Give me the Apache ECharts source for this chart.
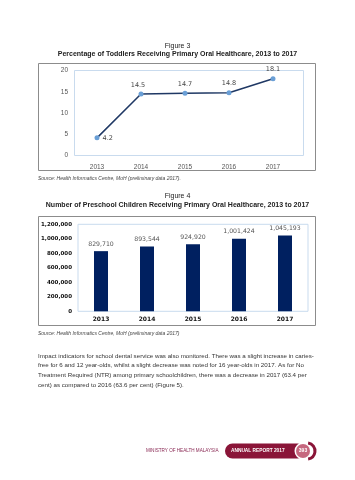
<!DOCTYPE html>
<html><head><meta charset="utf-8">
<script src="https://cdn.jsdelivr.net/npm/echarts@6/dist/echarts.min.js"></script>
<style>html,body{margin:0;padding:0;background:#fff}#c{width:355px;height:480px}</style>
</head><body><div id="c"></div>
<script>
var years = ['2013','2014','2015','2016','2017'];
var toddlerPct = [4.2, 14.5, 14.7, 14.8, 18.1];
var pctTicks = [0, 5, 10, 15, 20];
var preschoolCount = [829710, 893544, 924920, 1001424, 1045193];
var countTicks = [0, 200000, 400000, 600000, 800000, 1000000, 1200000];
var paragraph = [
  'Impact indicators for school dental service was also monitored. There was a slight increase in caries-',
  'free for 6 and 12 year-olds, whilst a slight decrease was noted for 16 year-olds in 2017. As for No',
  'Treatment Required (NTR) among primary schoolchildren, there was a decrease in 2017 (63.4 per',
  'cent) as compared to 2016 (63.6 per cent) (Figure 5).'
];

function fmt(v){ return v.toString().replace(/\B(?=(\d{3})+(?!\d))/g, ','); }

var chart = echarts.init(document.getElementById('c'), null, {renderer:'canvas'});
var SANS = '"Liberation Sans", Arial, sans-serif';
var VER = '"DejaVu Sans", Verdana, sans-serif';

var lineLabelPos = ['right','top','top','top','top'];
var lineLabelOffset = [[0,0],[-3,0],[0,0],[0,0],[0,0]];
var graphics = [
  {type:'text', left:'center', top:43, style:{text:'Figure 3', font:'7px '+SANS, fill:'#222'}},
  {type:'text', left:'center', top:51, style:{text:'Percentage of Toddlers Receiving Primary Oral Healthcare, 2013 to 2017', font:'bold 7px '+SANS, fill:'#222'}},
  {type:'rect', shape:{x:38.5, y:63.5, width:277, height:107}, style:{fill:'none', stroke:'#8c8c8c', lineWidth:1}},
  {type:'rect', shape:{x:74.5, y:70.5, width:229, height:85}, style:{fill:'none', stroke:'#c9dbee', lineWidth:1}, z:-1},
  {type:'text', left:38, top:176, style:{text:'Source: Health Informatics Centre, MoH (preliminary data 2017).', font:'italic 5px '+SANS, fill:'#444'}},
  {type:'text', left:'center', top:193, style:{text:'Figure 4', font:'7px '+SANS, fill:'#222'}},
  {type:'text', left:'center', top:202, style:{text:'Number of Preschool Children Receiving Primary Oral Healthcare, 2013 to 2017', font:'bold 7px '+SANS, fill:'#222'}},
  {type:'rect', shape:{x:38.5, y:216.5, width:277, height:109}, style:{fill:'none', stroke:'#8c8c8c', lineWidth:1}},
  {type:'text', left:38, top:331, style:{text:'Source: Health Informatics Centre, MoH (preliminary data 2017)', font:'italic 5px '+SANS, fill:'#444'}},
  {type:'text', left:146, top:448.5, style:{text:'MINISTRY OF HEALTH MALAYSIA', font:'4.6px '+SANS, fill:'#8a2a55'}},
  {type:'rect', shape:{x:225, y:443.5, width:80, height:15, r:7.5}, style:{fill:'#8a1538'}},
  {type:'text', left:231, top:448.5, style:{text:'ANNUAL REPORT 2017', font:'bold 4.8px '+SANS, fill:'#fff'}},
  {type:'circle', shape:{cx:303, cy:451, r:8.5}, style:{fill:'#fff'}},
  {type:'circle', shape:{cx:303, cy:451, r:7}, style:{fill:'#c6687f'}},
  {type:'text', x:303, y:451, style:{text:'393', font:'bold 5px '+SANS, fill:'#fff', align:'center', verticalAlign:'middle'}},
  {type:'arc', shape:{cx:307, cy:451, r:8, startAngle:-Math.PI/2.2, endAngle:Math.PI/2.2}, style:{stroke:'#8a1538', lineWidth:3, fill:'none'}}
];
paragraph.forEach(function(t,i){
  graphics.push({type:'text', left:38, top:353+i*9.7, style:{text:t, font:'6.2px '+SANS, fill:'#333'}});
});

var option = {
  backgroundColor:'#fff',
  animation:false,
  graphic: graphics,
  grid:[
    {left:75, top:70.7, width:220, height:85},
    {left:78, top:224.3, width:230, height:87, show:true, borderColor:'#c9dbee', borderWidth:1}
  ],
  xAxis:[
    {type:'category', gridIndex:0, data:years, boundaryGap:true,
     axisLine:{show:false}, axisTick:{show:false},
     axisLabel:{color:'#555', fontSize:6.5, fontFamily:SANS, margin:8}},
    {type:'category', gridIndex:1, data:years, boundaryGap:true,
     axisLine:{show:false}, axisTick:{show:false},
     axisLabel:{color:'#111', fontSize:6, fontWeight:'bold', fontFamily:VER, margin:5}}
  ],
  yAxis:[
    {type:'value', gridIndex:0, min:0, max:20, interval:5,
     axisLine:{show:false}, axisTick:{show:false}, splitLine:{show:false},
     axisLabel:{color:'#555', fontSize:6.5, fontFamily:SANS, margin:7,
       formatter:function(v){ return pctTicks.indexOf(v)>=0 ? String(v) : ''; }}},
    {type:'value', gridIndex:1, min:0, max:1200000, interval:200000,
     axisLine:{show:false}, axisTick:{show:false}, splitLine:{show:false},
     axisLabel:{color:'#111', fontSize:5.5, fontWeight:'bold', fontFamily:VER, margin:6,
       formatter:function(v){ return countTicks.indexOf(v)>=0 ? fmt(v) : ''; }}}
  ],
  series:[
    {type:'line', xAxisIndex:0, yAxisIndex:0,
     data: toddlerPct.map(function(v,i){ return {value:v, label:{position:lineLabelPos[i], offset:lineLabelOffset[i]}}; }),
     symbol:'circle', symbolSize:5,
     lineStyle:{color:'#1f3864', width:1.5},
     itemStyle:{color:'#6a9fd6'},
     label:{show:true, color:'#444', fontSize:6.5, fontFamily:VER, distance:3}},
    {type:'bar', xAxisIndex:1, yAxisIndex:1, data:preschoolCount, barWidth:14,
     itemStyle:{color:'#002060'},
     label:{show:true, position:'top', color:'#555', fontSize:6.2, fontFamily:VER, distance:4,
       formatter:function(p){ return fmt(p.value); }}}
  ]
};
chart.setOption(option);
</script></body></html>
